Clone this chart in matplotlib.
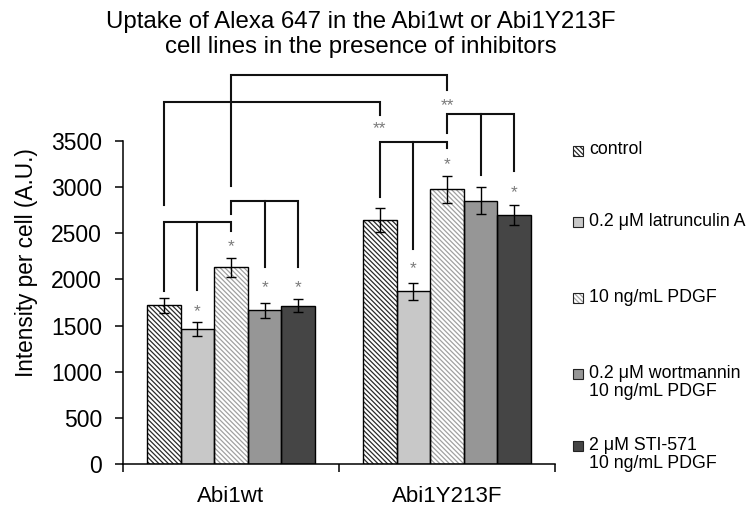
import matplotlib
matplotlib.use('Agg')
import matplotlib.pyplot as plt
from matplotlib.patches import Rectangle
import numpy as np

plt.rcParams['font.family'] = ['Liberation Sans', 'DejaVu Sans']
plt.rcParams['hatch.linewidth'] = 0.9

# ---- data ----
groups = ['Abi1wt', 'Abi1Y213F']
treatments = ['control', '0.2 \u03bcM latrunculin A', '10 ng/mL PDGF',
              '0.2 \u03bcM wortmannin\n10 ng/mL PDGF', '2 \u03bcM STI-571\n10 ng/mL PDGF']
means_wt = [1720, 1465, 2130, 1665, 1715]
err_wt = [80, 75, 105, 85, 70]
means_y213f = [2640, 1870, 2975, 2855, 2700]
err_y213f = [130, 95, 145, 145, 105]

# significance brackets: legs as (group, bar), bracket top, bottom of each leg
brackets = [
    ([(0, 2), (1, 2)], 4210, [3015, 4055]),
    ([(0, 0), (1, 0)], 3920, [2810, 3785]),
    ([(1, 0), (1, 1), (1, 2)], 3490, [2895, 2335, 3420]),
    ([(1, 2), (1, 3), (1, 4)], 3790, [3590, 3135, 3180]),
    ([(0, 0), (0, 1), (0, 2)], 2620, [1880, 1890, 2530]),
    ([(0, 2), (0, 3), (0, 4)], 2845, [2710, 2135, 2140]),
]
# star marks: (group, bar, text, height of glyph centre)
stars = [
    (0, 1, '*', 1705), (0, 2, '*', 2410), (0, 3, '*', 1965), (0, 4, '*', 1965),
    (1, 1, '*', 2170), (1, 2, '*', 3305), (1, 4, '*', 2995),
    (1, 2, '**', 3945), (1, 0, '**', 3695),
]

# ---- styles ----
face = ['white', '#c8c8c8', 'white', '#969696', '#454545']
dense = '\\' * 7
hatch = [dense, None, dense, None, None]
hatch_col = ['#2a2a2a', None, '#a0a0a0', None, None]

W, H = 753, 512
fig = plt.figure(figsize=(W / 100, H / 100), dpi=100)
ax = fig.add_axes([123 / W, 1 - 464 / H, (555 - 123) / W, (464 - 141) / H])

width = 0.1556
x = np.arange(len(groups))
means = [means_wt, means_y213f]
errs = [err_wt, err_y213f]


def bar_x(g, i):
    return x[g] + (i - 2) * width


for i in range(len(treatments)):
    xs = [bar_x(g, i) for g in range(len(groups))]
    vals = [means[g][i] for g in range(len(groups))]
    ev = [errs[g][i] for g in range(len(groups))]
    if hatch[i]:
        ax.bar(xs, vals, width, color=face[i], edgecolor=hatch_col[i], linewidth=0, hatch=hatch[i], zorder=2)
    else:
        ax.bar(xs, vals, width, color=face[i], linewidth=0, zorder=2)
    ax.bar(xs, vals, width, fill=False, edgecolor='black', linewidth=1.0, zorder=3)
    ax.errorbar(xs, vals, yerr=ev, fmt='none', ecolor='black', elinewidth=1.0,
                capsize=3.3, capthick=1.0, zorder=4)

bk = dict(color='#111111', lw=1.5, clip_on=False, zorder=5, solid_joinstyle='miter')
for legs, top, bottoms in brackets:
    xl = [bar_x(g, i) for g, i in legs]
    ax.plot([xl[0], xl[0], xl[-1], xl[-1]], [bottoms[0], top, top, bottoms[-1]], **bk)
    for xm, b in zip(xl[1:-1], bottoms[1:-1]):
        ax.plot([xm, xm], [top, b], **bk)

for g, i, s, yc in stars:
    ax.annotate(s, (bar_x(g, i), yc), xytext=(0, -7), textcoords='offset points',
                ha='center', va='baseline', fontsize=12.5, color='#7a7a7a', annotation_clip=False)

ax.set_xlim(-0.5, 1.5)
ax.set_ylim(0, 3500)
ax.set_yticks(np.arange(0, 3501, 500))
ax.tick_params(axis='y', labelsize=16.5, length=6, width=1.1, pad=9, direction='out')
ax.set_xticks([-0.5, 0.5, 1.5])
ax.set_xticklabels([])
ax.tick_params(axis='x', which='major', length=6, width=1.1, direction='out')
ax.set_xticks(x, labels=groups, minor=True)
ax.tick_params(axis='x', which='minor', length=0, labelsize=16, pad=16)
for side in ['top', 'right']:
    ax.spines[side].set_visible(False)
for side in ['left', 'bottom']:
    ax.spines[side].set_linewidth(1.1)

fig.text(27 / W, 1 - 263 / H, 'Intensity per cell (A.U.)', rotation=90,
         ha='center', va='center', fontsize=16.3)

fig.text(361 / W, 1 - 28 / H, 'Uptake of Alexa 647 in the Abi1wt or Abi1Y213F',
         ha='center', va='baseline', fontsize=17.3)
fig.text(361 / W, 1 - 52.5 / H, 'cell lines in the presence of inhibitors',
         ha='center', va='baseline', fontsize=17.3)

# legend drawn by hand (uneven row spacing in the original)
legend_rows_px = [150, 221, 297, 373, 445]
box = 10
for i, (lab, yp) in enumerate(zip(treatments, legend_rows_px)):
    r = Rectangle((573 / W, 1 - (yp + box / 2 + 1) / H), box / W, box / H,
                  transform=fig.transFigure, facecolor=face[i],
                  edgecolor=hatch_col[i] if hatch[i] else 'none',
                  hatch=hatch[i], linewidth=0)
    fig.add_artist(r)
    fig.add_artist(Rectangle((573 / W, 1 - (yp + box / 2 + 1) / H), box / W, box / H,
                             transform=fig.transFigure, fill=False,
                             edgecolor='#222222', linewidth=0.8))
    for j, line in enumerate(lab.split('\n')):
        fig.text(589 / W, 1 - (yp + 18 * j) / H, line, ha='left', va='center', fontsize=12.8)

fig.savefig('out.png', dpi=100)
